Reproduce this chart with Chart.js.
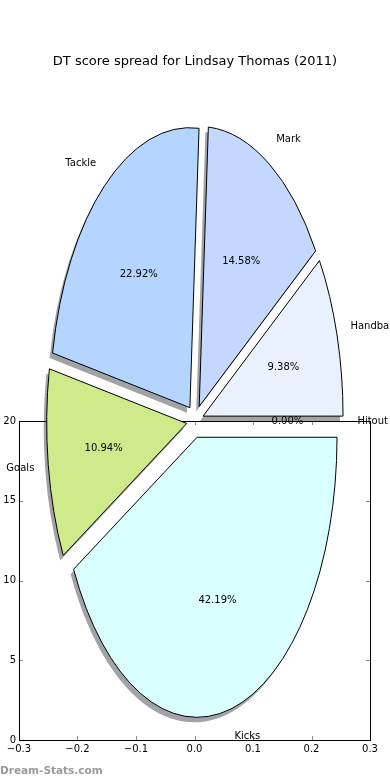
<!DOCTYPE html>
<html lang="en">

<head>
    <meta charset="UTF-8">
    <title>DT score spread</title>
    <script src="https://cdn.jsdelivr.net/npm/chart.js"></script>
    <style>
        body { margin: 0; background: #fff; }
        #wrap { position: relative; width: 390px; height: 780px; overflow: hidden; }
        #wrap canvas { position: absolute; left: 0; top: 0; }
        #title {
            position: absolute; left: 0; top: 53px; width: 390px; text-align: center;
            font: 13px "DejaVu Sans"; line-height: 16px; color: #000;
        }
        #brand {
            position: absolute; left: 0; top: 763px;
            font: bold 10.5px "DejaVu Sans"; line-height: 14px; color: #9a9a9a;
        }
    </style>
</head>

<body>
    <div id="wrap">
        <canvas id="axes" width="390" height="780"></canvas>
        <canvas id="pie" width="390" height="780"></canvas>
        <div id="title">DT score spread for Lindsay Thomas (2011)</div>
        <div id="brand">Dream-Stats.com</div>
    </div>

    <script>
        // slices, in drawing order (clockwise from 3 o'clock)
        const categories = ['Hitout', 'Kicks', 'Goals', 'Tackle', 'Mark', 'Handball'];
        const points = [0, 81, 21, 44, 28, 18];
        const sliceColors = ['#ffffff', '#d9ffff', '#cfea8b', '#b3d5ff', '#c4d8ff', '#eaf1fe'];

        // the empty axes under the pie
        const xTicks = [-0.3, -0.2, -0.1, 0.0, 0.1, 0.2, 0.3];
        const yTicks = [0, 5, 10, 15, 20];

        const explode = 0.06;   // fraction of radius each slice is pushed out
        const squash = 2;       // pie is drawn twice as tall as wide
        const font = '10px "DejaVu Sans"';

        function fmtTick(v) {
            return String(v).replace('-', '\u2212');
        }

        // matplotlib-like frame with inward ticks on all four sides
        const framePlugin = {
            id: 'frame',
            afterDraw(chart) {
                const ctx = chart.ctx;
                const a = chart.chartArea;
                const xs = chart.scales.x, ys = chart.scales.y;
                ctx.save();
                ctx.strokeStyle = 'rgba(0,0,0,0.45)';
                ctx.lineWidth = 1;
                ctx.beginPath();
                xTicks.forEach(v => {
                    const px = Math.round(xs.getPixelForValue(v)) + 0.5;
                    ctx.moveTo(px, a.bottom); ctx.lineTo(px, a.bottom - 4);
                    ctx.moveTo(px, a.top); ctx.lineTo(px, a.top + 4);
                });
                yTicks.forEach(v => {
                    const py = Math.round(ys.getPixelForValue(v)) + 0.5;
                    ctx.moveTo(a.left, py); ctx.lineTo(a.left + 4, py);
                    ctx.moveTo(a.right, py); ctx.lineTo(a.right - 4, py);
                });
                ctx.stroke();
                ctx.strokeStyle = '#000';
                ctx.strokeRect(Math.round(a.left) + 0.5, Math.round(a.top) + 0.5,
                    Math.round(a.right - a.left), Math.round(a.bottom - a.top));
                ctx.restore();
            }
        };

        new Chart(document.getElementById('axes'), {
            type: 'scatter',
            data: { datasets: [{ data: [] }] },
            options: {
                responsive: false,
                animation: false,
                layout: { padding: { top: 421, right: 20, left: 0, bottom: 0 } },
                plugins: { legend: { display: false }, tooltip: { enabled: false } },
                scales: {
                    x: {
                        min: -0.3, max: 0.3,
                        afterFit: s => { s.height = 40; },
                        afterBuildTicks: s => { s.ticks = xTicks.map(v => ({ value: v })); },
                        grid: { display: false, drawTicks: false },
                        border: { display: false },
                        ticks: {
                            padding: 3, maxRotation: 0, autoSkip: false, color: '#000',
                            font: { family: 'DejaVu Sans', size: 10 },
                            callback: v => fmtTick(v.toFixed(1))
                        }
                    },
                    y: {
                        min: 0, max: 20,
                        afterFit: s => { s.width = 19; },
                        afterBuildTicks: s => { s.ticks = yTicks.map(v => ({ value: v })); },
                        grid: { display: false, drawTicks: false },
                        border: { display: false },
                        ticks: {
                            padding: 3, color: '#000',
                            font: { family: 'DejaVu Sans', size: 10 }
                        }
                    }
                }
            },
            plugins: [framePlugin]
        });

        // stretch the pie, explode the slices, add shadows and labels
        const mplPie = {
            id: 'mplPie',
            afterDatasetsUpdate(chart) {
                const a = chart.chartArea;
                const cx = (a.left + a.right) / 2, cy = (a.top + a.bottom) / 2;
                chart.getDatasetMeta(0).data.forEach(arc => {
                    const mid = (arc.startAngle + arc.endAngle) / 2;
                    const d = explode * arc.outerRadius;
                    arc.x = cx + Math.cos(mid) * d;
                    arc.y = cy + Math.sin(mid) * d;
                });
            },
            beforeDatasetsDraw(chart) {
                const ctx = chart.ctx;
                const a = chart.chartArea;
                const cy = (a.top + a.bottom) / 2;
                ctx.save();
                ctx.translate(0, cy);
                ctx.scale(1, squash);
                ctx.translate(0, -cy);
                ctx.shadowColor = 'rgba(40,46,52,0.44)';
                ctx.shadowOffsetX = -3;
                ctx.shadowOffsetY = 5;
                // outlines: 1px even though the path is stretched, and no shadow
                const stroke = ctx.stroke;
                ctx.stroke = function () {
                    ctx.save();
                    ctx.setTransform(1, 0, 0, 1, 0, 0);
                    ctx.shadowColor = 'rgba(0,0,0,0)';
                    stroke.call(ctx);
                    ctx.restore();
                };
            },
            afterDatasetsDraw(chart) {
                const ctx = chart.ctx;
                delete ctx.stroke;
                ctx.restore();

                const a = chart.chartArea;
                const cy = (a.top + a.bottom) / 2;
                const total = points.reduce((s, v) => s + v, 0);
                ctx.save();
                ctx.font = font;
                ctx.fillStyle = '#000';
                ctx.textBaseline = 'middle';
                chart.getDatasetMeta(0).data.forEach((arc, i) => {
                    const mid = (arc.startAngle + arc.endAngle) / 2;
                    const r = arc.outerRadius;
                    const c = Math.cos(mid), s = Math.sin(mid);
                    // category label
                    const lx = arc.x + c * 1.1 * r;
                    const ly = cy + (arc.y + s * 1.1 * r - cy) * squash;
                    ctx.textAlign = c > 1e-9 ? 'left' : 'right';
                    ctx.fillText(categories[i], lx, ly);
                    // percentage
                    const px = arc.x + c * 0.6 * r;
                    const py = cy + (arc.y + s * 0.6 * r - cy) * squash;
                    ctx.textAlign = 'center';
                    ctx.fillText((points[i] / total * 100).toFixed(2) + '%', px, py);
                });
                ctx.restore();
            }
        };

        new Chart(document.getElementById('pie'), {
            type: 'pie',
            data: {
                labels: categories,
                datasets: [{
                    data: points,
                    backgroundColor: sliceColors,
                    borderColor: '#000',
                    borderWidth: 1,
                    clip: false
                }]
            },
            options: {
                responsive: false,
                animation: false,
                rotation: 90,
                radius: 140,
                layout: { padding: { top: 62, bottom: 0, left: 0, right: 0 } },
                events: [],
                plugins: { legend: { display: false }, tooltip: { enabled: false } }
            },
            plugins: [mplPie]
        });
    </script>
</body>

</html>
